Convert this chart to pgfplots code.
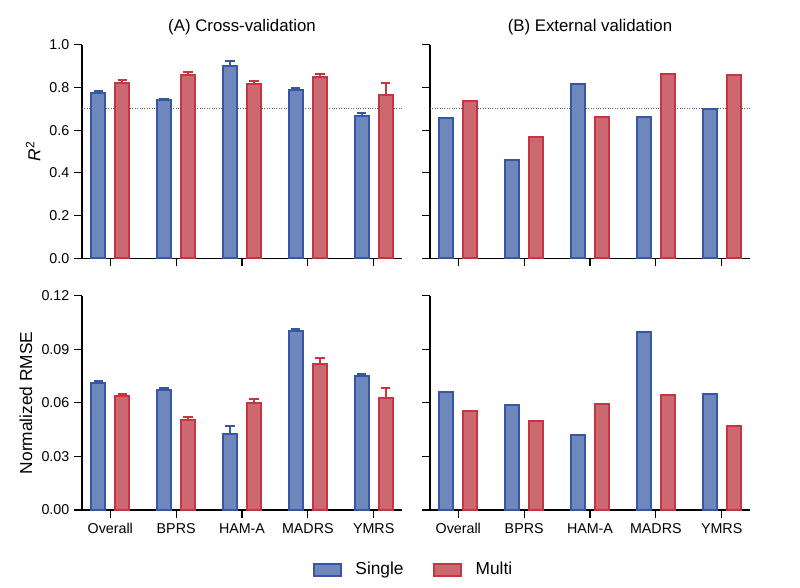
\documentclass[border=0pt]{standalone}
\usepackage{fontspec}
\setmainfont{Liberation Sans}
\usepackage{pgfplots}
\usepackage{pgfplotstable}
\pgfplotsset{compat=1.18}
\definecolor{bfill}{RGB}{110,136,187}
\definecolor{bedge}{RGB}{55,86,166}
\definecolor{rfill}{RGB}{203,104,112}
\definecolor{redge}{RGB}{200,52,66}

\pgfplotstableread{
x s se m me
0 0.776 0.008 0.823 0.014
1 0.742 0.003 0.856 0.016
2 0.901 0.024 0.815 0.014
3 0.790 0.008 0.851 0.013
4 0.667 0.014 0.767 0.053
}\cvR
\pgfplotstableread{
x s m
0 0.658 0.736
1 0.461 0.566
2 0.814 0.664
3 0.661 0.862
4 0.697 0.856
}\exR
\pgfplotstableread{
x s se m me
0 0.0714 0.0009 0.0639 0.0009
1 0.0673 0.0011 0.0505 0.0016
2 0.0428 0.0045 0.0598 0.0022
3 0.1003 0.0011 0.0818 0.0032
4 0.0749 0.0013 0.0626 0.0058
}\cvE
\pgfplotstableread{
x s m
0 0.0663 0.0553
1 0.0589 0.0497
2 0.0421 0.0596
3 0.0995 0.0646
4 0.0648 0.0469
}\exE

\pgfplotsset{
  panel/.style={
    scale only axis, width=240pt,
    xmin=-0.43, xmax=4.43, ymin=0, enlargelimits=false,
    axis lines*=left, tick align=outside, major tick length=6pt,
    xtick={0,1,2,3,4},
    axis line style={line width=0.9pt, black},
    every tick/.style={line width=0.9pt, black},
    tick label style={font=\fontsize{10.7}{12}\selectfont},
    label style={font=\fontsize{13}{15}\selectfont},
    title style={font=\fontsize{12.6}{15}\selectfont, yshift=-2pt},
    /pgf/number format/assume math mode=true,
    clip=false,
  },
  rpanel/.style={panel, ymax=1, ytick={0,0.2,0.4,0.6,0.8,1.0}, height=160.2pt,
    yticklabel style={/pgf/number format/.cd, fixed, fixed zerofill, precision=1},
    xticklabels={}},
  epanel/.style={panel, ymax=0.12, ytick={0,0.03,0.06,0.09,0.12}, height=160.7pt,
    scaled y ticks=false,
    yticklabel style={/pgf/number format/.cd, fixed, fixed zerofill, precision=2},
    xticklabel style={text height=1.6ex, text depth=0.3ex},
    xticklabels={Overall,BPRS,HAM-A,MADRS,YMRS}},
  sgl/.style={ybar, bar width=10.5pt, bar shift=0pt, fill=bfill, draw=bedge, line width=1.5pt,
    error bars/error bar style={line width=1.5pt, bedge},
    error bars/error mark options={rotate=90, mark size=3.5pt, line width=1.5pt, bedge}},
  mlt/.style={ybar, bar width=10.5pt, bar shift=0pt, fill=rfill, draw=redge, line width=1.5pt,
    error bars/error bar style={line width=1.5pt, redge},
    error bars/error mark options={rotate=90, mark size=3.5pt, line width=1.5pt, redge}},
  ref/.style={densely dotted, line width=0.8pt, black!60},
}

\begin{document}
\begin{tikzpicture}
\useasboundingbox (0,0) rectangle (600pt,440.25pt);

% (A) R2
\begin{axis}[rpanel, at={(61.5pt,246.5pt)}, anchor=south west,
  title={(A) Cross-validation}, ylabel={\textit{R}\textsuperscript{2}}]
\addplot[ref] coordinates {(-0.43,0.7) (4.43,0.7)};
\addplot[sgl, error bars/.cd, y dir=plus, y explicit] table[x expr=\thisrow{x}-0.1824, y=s, y error=se] {\cvR};
\addplot[mlt, error bars/.cd, y dir=plus, y explicit] table[x expr=\thisrow{x}+0.1824, y=m, y error=me] {\cvR};
\end{axis}

% (B) R2
\begin{axis}[rpanel, at={(322.5pt,246.5pt)}, anchor=south west,
  title={(B) External validation}, yticklabels={}]
\addplot[ref] coordinates {(-0.43,0.7) (4.43,0.7)};
\addplot[sgl] table[x expr=\thisrow{x}-0.1824, y=s] {\exR};
\addplot[mlt] table[x expr=\thisrow{x}+0.1824, y=m] {\exR};
\end{axis}

% (A) RMSE
\begin{axis}[epanel, at={(61.5pt,57.75pt)}, anchor=south west,
  ylabel={Normalized RMSE},
  legend style={at={(1.037,-0.278)}, anchor=center, draw=none, fill=none,
    legend columns=2, font=\fontsize{13}{15}\selectfont,
    /tikz/every odd column/.append style={column sep=8pt},
    /tikz/every even column/.append style={column sep=20pt}},
  legend image code/.code={\draw[#1] (0pt,-4.5pt) rectangle (20.5pt,4.5pt);}]
\addlegendimage{fill=bfill, draw=bedge, line width=1.5pt}
\addlegendentry{Single}
\addlegendimage{fill=rfill, draw=redge, line width=1.5pt}
\addlegendentry{Multi}
\addplot[sgl, forget plot, error bars/.cd, y dir=plus, y explicit] table[x expr=\thisrow{x}-0.1824, y=s, y error=se] {\cvE};
\addplot[mlt, forget plot, error bars/.cd, y dir=plus, y explicit] table[x expr=\thisrow{x}+0.1824, y=m, y error=me] {\cvE};
\end{axis}

% (B) RMSE
\begin{axis}[epanel, at={(322.5pt,57.75pt)}, anchor=south west, yticklabels={}]
\addplot[sgl] table[x expr=\thisrow{x}-0.1824, y=s] {\exE};
\addplot[mlt] table[x expr=\thisrow{x}+0.1824, y=m] {\exE};
\end{axis}
\end{tikzpicture}
\end{document}
